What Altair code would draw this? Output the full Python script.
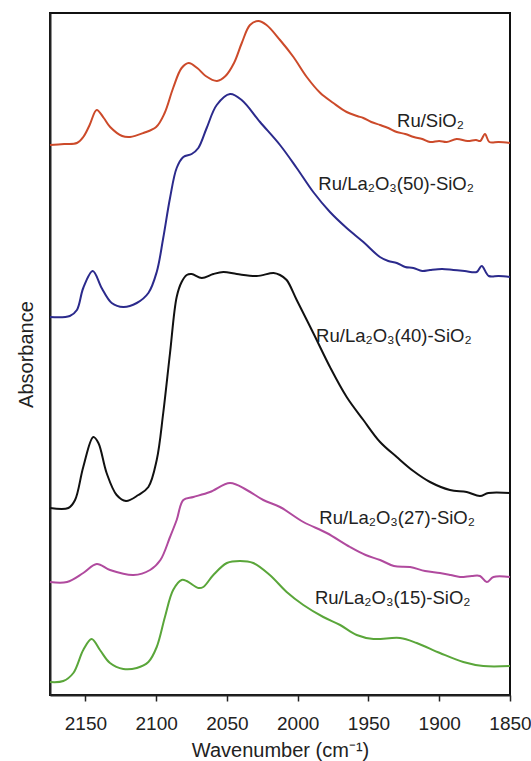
import altair as alt
import pandas as pd

# ---- data (wavenumber in cm-1, absorbance in a.u., offset spectra) ----
wn_ru = [2175, 2165, 2156, 2151.5, 2147, 2142, 2137, 2132.5, 2124, 2118.5, 2109, 2100, 2094, 2088, 2082,
         2077, 2071, 2065, 2057, 2051, 2045, 2039.5, 2033.7, 2027.8, 2022, 2012.5, 2003, 1993.6, 1984,
         1974.8, 1965.4, 1958, 1953.6, 1948, 1941.8, 1936, 1930, 1924, 1918, 1912, 1906.5, 1900, 1894.7,
         1887.7, 1880, 1874, 1871, 1867.7, 1864.6, 1858, 1850]
abs_ru = [0.550, 0.551, 0.552, 0.558, 0.570, 0.585, 0.577, 0.568, 0.559, 0.558, 0.562, 0.568, 0.582, 0.607,
          0.627, 0.632, 0.627, 0.619, 0.614, 0.619, 0.632, 0.652, 0.670, 0.674, 0.670, 0.655, 0.638, 0.618,
          0.602, 0.592, 0.583, 0.579, 0.577, 0.573, 0.570, 0.567, 0.563, 0.561, 0.558, 0.556, 0.553, 0.554,
          0.553, 0.556, 0.554, 0.555, 0.554, 0.561, 0.553, 0.553, 0.552]

wn_50 = [2175, 2161, 2156, 2151.5, 2144.8, 2138.5, 2131.4, 2123.2, 2113.7, 2105.5, 2099.6, 2095, 2090.2,
         2085.5, 2080.8, 2074.9, 2070.2, 2064.3, 2057.2, 2047.8, 2039.6, 2026.6, 2012.5, 2000.7, 1989,
         1977.2, 1965.4, 1953.6, 1941.9, 1936, 1930, 1924, 1918.3, 1912, 1906.5, 1898, 1890, 1882, 1873.5,
         1870, 1865, 1858, 1850]
abs_50 = [0.378, 0.379, 0.385, 0.407, 0.424, 0.407, 0.392, 0.388, 0.392, 0.402, 0.423, 0.457, 0.497, 0.527,
          0.538, 0.541, 0.547, 0.567, 0.590, 0.601, 0.595, 0.573, 0.550, 0.527, 0.503, 0.483, 0.467, 0.453,
          0.438, 0.434, 0.432, 0.428, 0.427, 0.424, 0.425, 0.426, 0.425, 0.424, 0.423, 0.429, 0.419, 0.419,
          0.418]

wn_40 = [2175, 2162, 2157.3, 2151.5, 2144.4, 2140.8, 2135, 2127.9, 2121.3, 2112.6, 2105.5, 2099.6, 2095,
         2090.2, 2085.5, 2082, 2078.4, 2074.9, 2067.8, 2059.6, 2052.5, 2043, 2029, 2017, 2012.5, 2007.8,
         2000.7, 1989, 1977.2, 1965.4, 1953.6, 1941.8, 1930, 1918.3, 1906.5, 1892.4, 1880.6, 1871.2, 1865.3,
         1850]
abs_40 = [0.187, 0.187, 0.195, 0.228, 0.258, 0.252, 0.222, 0.200, 0.194, 0.200, 0.208, 0.235, 0.282, 0.342,
          0.398, 0.413, 0.420, 0.421, 0.417, 0.421, 0.423, 0.421, 0.419, 0.422, 0.420, 0.415, 0.395, 0.362,
          0.328, 0.298, 0.275, 0.253, 0.238, 0.224, 0.213, 0.205, 0.203, 0.199, 0.202, 0.202]

wn_27 = [2175, 2163, 2151.5, 2142, 2132.6, 2116, 2104.3, 2097, 2090.2, 2085.5, 2080.8, 2073.7, 2062, 2047.8,
         2036, 2024.3, 2012.5, 1996, 1979.5, 1963, 1952, 1941.8, 1932, 1920.6, 1910, 1899.5, 1892, 1885.3,
         1877, 1871.2, 1866.4, 1861.7, 1850]
abs_27 = [0.113, 0.113, 0.122, 0.131, 0.125, 0.120, 0.125, 0.135, 0.158, 0.175, 0.195, 0.198, 0.203, 0.212,
          0.205, 0.195, 0.188, 0.173, 0.162, 0.148, 0.140, 0.135, 0.129, 0.128, 0.124, 0.122, 0.120, 0.118,
          0.119, 0.119, 0.113, 0.118, 0.118]

wn_15 = [2175, 2165.6, 2158.5, 2151.5, 2145.6, 2139.7, 2132.6, 2123.2, 2113.7, 2105.5, 2099.6, 2093.8, 2088,
         2082, 2078.4, 2070.2, 2066.7, 2059.6, 2050, 2040.8, 2031.4, 2019.7, 2007.8, 1996, 1981.9, 1970,
         1958.3, 1946.5, 1927.7, 1915.9, 1899.5, 1883, 1868.9, 1850]
abs_15 = [0.013, 0.014, 0.022, 0.045, 0.056, 0.045, 0.032, 0.026, 0.027, 0.033, 0.048, 0.078, 0.105, 0.115,
          0.114, 0.107, 0.108, 0.120, 0.132, 0.134, 0.132, 0.120, 0.103, 0.090, 0.078, 0.070, 0.060, 0.056,
          0.057, 0.052, 0.042, 0.033, 0.029, 0.029]

series_names = ["Ru/SiO2", "Ru/La2O3(50)-SiO2", "Ru/La2O3(40)-SiO2", "Ru/La2O3(27)-SiO2", "Ru/La2O3(15)-SiO2"]
series_colors = ["#cc4a2a", "#2b2a8c", "#111111", "#b04a9e", "#5aa63a"]

label_texts = ["Ru/SiO₂", "Ru/La₂O₃(50)-SiO₂", "Ru/La₂O₃(40)-SiO₂", "Ru/La₂O₃(27)-SiO₂", "Ru/La₂O₃(15)-SiO₂"]
label_wn = [1929.8, 1985.4, 1987.0, 1984.7, 1987.8]
label_abs = [0.568, 0.505, 0.353, 0.171, 0.091]

tick_values = list(range(1850, 2176, 25))

# ---- build tables ----
rows = []
for name, w, a in zip(series_names,
                      [wn_ru, wn_50, wn_40, wn_27, wn_15],
                      [abs_ru, abs_50, abs_40, abs_27, abs_15]):
    for wi, ai in zip(w, a):
        rows.append({"series": name, "wn": wi, "abs": ai})
df = pd.DataFrame(rows)
labels = pd.DataFrame({"text": label_texts, "wn": label_wn, "abs": label_abs})

xscale = alt.Scale(domain=[1850, 2175], reverse=True, nice=False, zero=False)
yscale = alt.Scale(domain=[0, 0.682], nice=False, zero=False)

lines = alt.Chart(df).mark_line(strokeWidth=2, interpolate="catmull-rom").encode(
    x=alt.X("wn:Q", scale=xscale,
            axis=alt.Axis(values=tick_values, format="d",
                          labelExpr="datum.value % 50 == 0 ? datum.label : ''",
                          title="Wavenumber (cm⁻¹)", grid=False,
                          tickSize=6, tickWidth=1.5, tickColor="#222",
                          labelFontSize=19, labelPadding=13, labelColor="#222",
                          labelFont="Liberation Sans", titleFont="Liberation Sans",
                          titleFontSize=20, titleFontWeight="normal", titleColor="#222",
                          titleY=61, titleBaseline="alphabetic",
                          domainColor="#222", domainWidth=2, labelFlush=False)),
    y=alt.Y("abs:Q", scale=yscale,
            axis=alt.Axis(labels=False, ticks=False, grid=False, title="Absorbance",
                          titleFont="Liberation Sans", titleFontSize=20, titleFontWeight="normal",
                          titleColor="#222", titleX=-18, titleY=341, titleAngle=-90,
                          titleAlign="center", titleBaseline="alphabetic",
                          domainColor="#222", domainWidth=2)),
    color=alt.Color("series:N", scale=alt.Scale(domain=series_names, range=series_colors), legend=None),
    detail="series:N",
)

texts = alt.Chart(labels).mark_text(align="left", baseline="alphabetic", fontSize=18.5,
                                    font="Liberation Sans", color="#222").encode(
    x=alt.X("wn:Q", scale=xscale),
    y=alt.Y("abs:Q", scale=yscale),
    text="text:N",
)

chart = alt.layer(lines, texts).properties(
    width=460, height=682,
    padding={"left": 50, "top": 13, "right": 21, "bottom": 66},
    autosize="none",
).configure_view(stroke="#111", strokeWidth=2)

chart.save("out.html", embed_options={"renderer": "svg", "actions": False})
